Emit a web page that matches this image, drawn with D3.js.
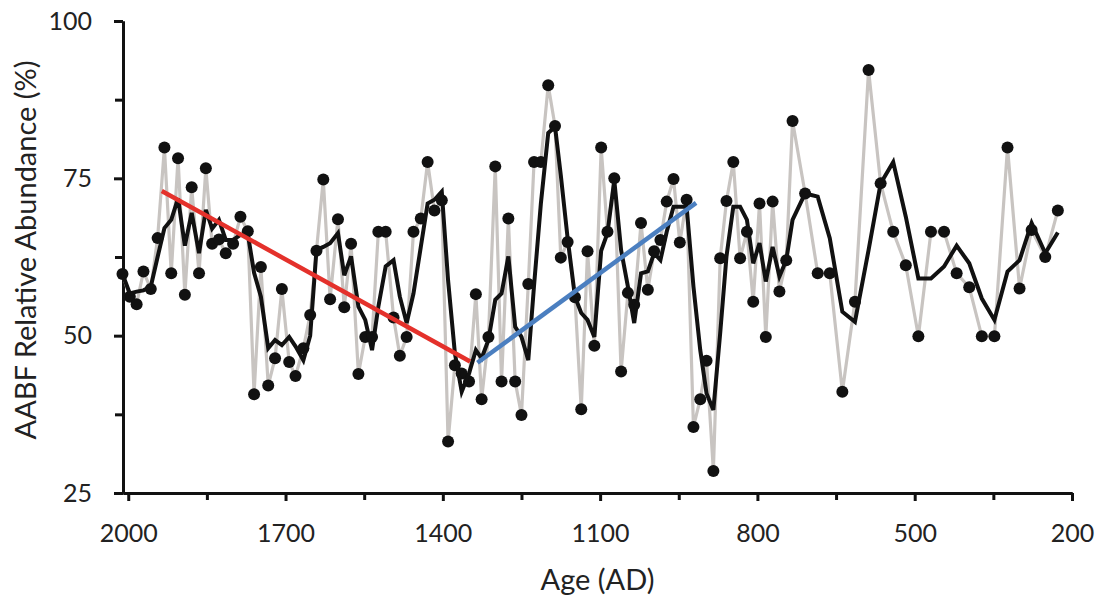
<!DOCTYPE html>
<html>
<head>
<meta charset="utf-8">
<script src="https://cdn.jsdelivr.net/npm/d3@7"></script>
<style>
  body { margin: 0; background: #fff; }
  .axis path, .axis line { stroke: #111; stroke-width: 3; }
  .axis text { font-family: Lato, "Open Sans", sans-serif; font-size: 25px; fill: #222; }
  .title { font-family: Lato, "Open Sans", sans-serif; font-size: 29px; fill: #222; }
</style>
</head>
<body>
<script>
// age (AD) of each sample
var ages = [2011,1997,1984,1971,1957,1944,1931,1918,1905,1892,
  1879,1865,1852,1840,1827,1814,1800,1786,1772,1760,
  1747,1733,1720,1707,1693,1681,1666,1653,1641,1628,
  1615,1600,1588,1575,1561,1548,1535,1523,1509,1494,
  1482,1469,1456,1442,1429,1416,1402,1390,1377,1364,
  1350,1337,1326,1313,1300,1288,1275,1262,1250,1237,
  1226,1213,1199,1186,1175,1162,1148,1136,1124,1111,
  1098,1086,1073,1060,1047,1035,1022,1009,997,985,
  973,960,948,935,922,909,897,884,871,859,
  846,833,820,808,796,784,771,758,745,733,
  709,685,662,638,614,588,565,541,517,493,
  469,444,420,396,372,348,323,300,277,251,
  227];

// AABF relative abundance (%) - grey line with dots
var aabf = [59.8,56.2,55.0,60.2,57.4,65.5,79.9,59.9,78.2,56.5,
  73.6,59.9,76.6,64.6,65.3,63.1,64.6,68.9,66.6,40.7,
  60.9,42.1,46.4,57.4,45.8,43.6,48.0,53.3,63.5,74.8,
  55.8,68.5,54.5,64.6,43.9,49.8,49.8,66.5,66.5,52.9,
  46.8,49.8,66.5,68.6,77.6,69.9,71.5,33.2,45.3,44.0,
  42.7,56.6,39.9,49.8,76.9,42.7,68.6,42.7,37.4,58.2,
  77.6,77.6,89.8,83.3,62.4,64.9,56.1,38.3,63.4,48.4,
  79.9,66.5,75.0,44.3,56.8,54.9,67.9,57.3,63.4,65.2,
  71.3,74.9,64.8,71.6,35.5,39.9,46.0,28.5,62.3,71.4,
  77.6,62.3,66.5,55.4,71.0,49.8,71.3,57.0,62.0,84.1,
  72.6,59.9,59.9,41.1,55.4,92.2,74.2,66.5,61.2,49.9,
  66.5,66.5,59.9,57.7,49.9,49.9,79.9,57.5,66.8,62.5,
  69.9];

// smoothed curve (black line)
var smooth = [59.8,56.7,57.0,57.2,57.8,62.5,67.1,68.4,71.8,64.3,
  69.5,63.1,70.0,67.0,68.4,65.2,65.2,66.0,66.2,60.0,
  56.2,48.0,49.3,48.5,49.8,48.3,46.1,50.0,63.6,64.1,
  64.7,66.3,59.6,62.6,54.6,52.5,47.7,54.6,61.0,62.0,
  56.2,52.0,56.7,64.1,71.0,71.6,72.9,58.8,47.2,41.1,
  44.0,47.7,46.4,49.3,55.7,56.7,62.6,51.4,49.8,46.1,
  58.0,71.0,82.2,83.2,75.5,65.5,56.2,53.6,52.5,49.8,
  63.5,66.3,74.7,63.6,57.8,52.0,59.9,60.2,63.1,62.0,
  66.5,70.5,70.5,70.5,57.8,47.7,40.8,38.2,50.4,62.6,
  70.5,70.5,68.4,61.5,64.7,58.6,64.1,59.4,62.0,68.4,
  72.6,72.1,65.5,53.8,52.2,63.6,74.2,77.6,68.9,59.1,
  59.1,61.0,64.3,61.5,55.9,52.5,60.2,62.0,67.9,63.1,
  66.4];

// trend lines [age, value]
var redTrend = [[1936, 73.0], [1348, 45.9]];
var blueTrend = [[1334, 45.7], [917, 71.1]];

var xMajor = [2000, 1700, 1400, 1100, 800, 500, 200];
var xMinor = [1850, 1550, 1250, 950, 650, 350];
var yMajor = [25, 50, 75, 100];
var yMinor = [37.5, 62.5, 87.5];

var W = 1099, H = 599;
var margin = {top: 21, right: 27, bottom: 106, left: 123},
    w = W - margin.left - margin.right,
    h = H - margin.top - margin.bottom;

var svg = d3.select("body").append("svg")
    .attr("width", W)
    .attr("height", H);

var g = svg.append("g")
    .attr("transform", "translate(" + margin.left + "," + margin.top + ")");

var xScale = d3.scaleLinear().domain([2010, 200]).range([0, w]);
var yScale = d3.scaleLinear().domain([25, 100]).range([h, 0]);

var points = ages.map(function(a, i) { return {age: a, v: aabf[i], s: smooth[i]}; });

// axes
g.append("g")
    .attr("class", "axis")
    .attr("transform", "translate(0," + h + ")")
    .call(d3.axisBottom(xScale).tickValues(xMinor).tickFormat("").tickSize(7).tickSizeOuter(0));
g.append("g")
    .attr("class", "axis")
    .attr("transform", "translate(0," + h + ")")
    .call(d3.axisBottom(xScale).tickValues(xMajor).tickFormat(d3.format("d")).tickSize(8).tickSizeOuter(0).tickPadding(23));

g.append("g")
    .attr("class", "axis")
    .call(d3.axisLeft(yScale).tickValues(yMinor).tickFormat("").tickSize(8).tickSizeOuter(0));
g.append("g")
    .attr("class", "axis")
    .call(d3.axisLeft(yScale).tickValues(yMajor).tickSize(9).tickSizeOuter(0).tickPadding(22));

// grey raw line
var line = d3.line()
    .x(function(d) { return xScale(d.age); })
    .y(function(d) { return yScale(d.v); });

g.append("path")
    .datum(points)
    .attr("fill", "none")
    .attr("stroke", "#c8c4c1")
    .attr("stroke-width", 3.2)
    .attr("stroke-linejoin", "round")
    .attr("d", line);

g.selectAll("circle.dot")
    .data(points)
  .enter().append("circle")
    .attr("class", "dot")
    .attr("cx", function(d) { return xScale(d.age); })
    .attr("cy", function(d) { return yScale(d.v); })
    .attr("r", 6)
    .attr("fill", "#111");

// black smoothed line
var sLine = d3.line()
    .x(function(d) { return xScale(d.age); })
    .y(function(d) { return yScale(d.s); });

g.append("path")
    .datum(points)
    .attr("fill", "none")
    .attr("stroke", "#111")
    .attr("stroke-width", 4)
    .attr("stroke-linejoin", "miter")
    .attr("d", sLine);

// trends
var tLine = d3.line()
    .x(function(d) { return xScale(d[0]); })
    .y(function(d) { return yScale(d[1]); });

g.append("path")
    .datum(redTrend)
    .attr("stroke", "#e4312b")
    .attr("stroke-width", 4.5)
    .attr("d", tLine);

g.append("path")
    .datum(blueTrend)
    .attr("stroke", "#4b7fc0")
    .attr("stroke-width", 4.5)
    .attr("d", tLine);

// titles
svg.append("text")
    .attr("class", "title")
    .attr("x", margin.left + w / 2)
    .attr("y", 590)
    .attr("text-anchor", "middle")
    .text("Age (AD)");

svg.append("text")
    .attr("class", "title")
    .attr("transform", "translate(36,250) rotate(-90)")
    .attr("text-anchor", "middle")
    .text("AABF Relative Abundance (%)");
</script>
</body>
</html>
